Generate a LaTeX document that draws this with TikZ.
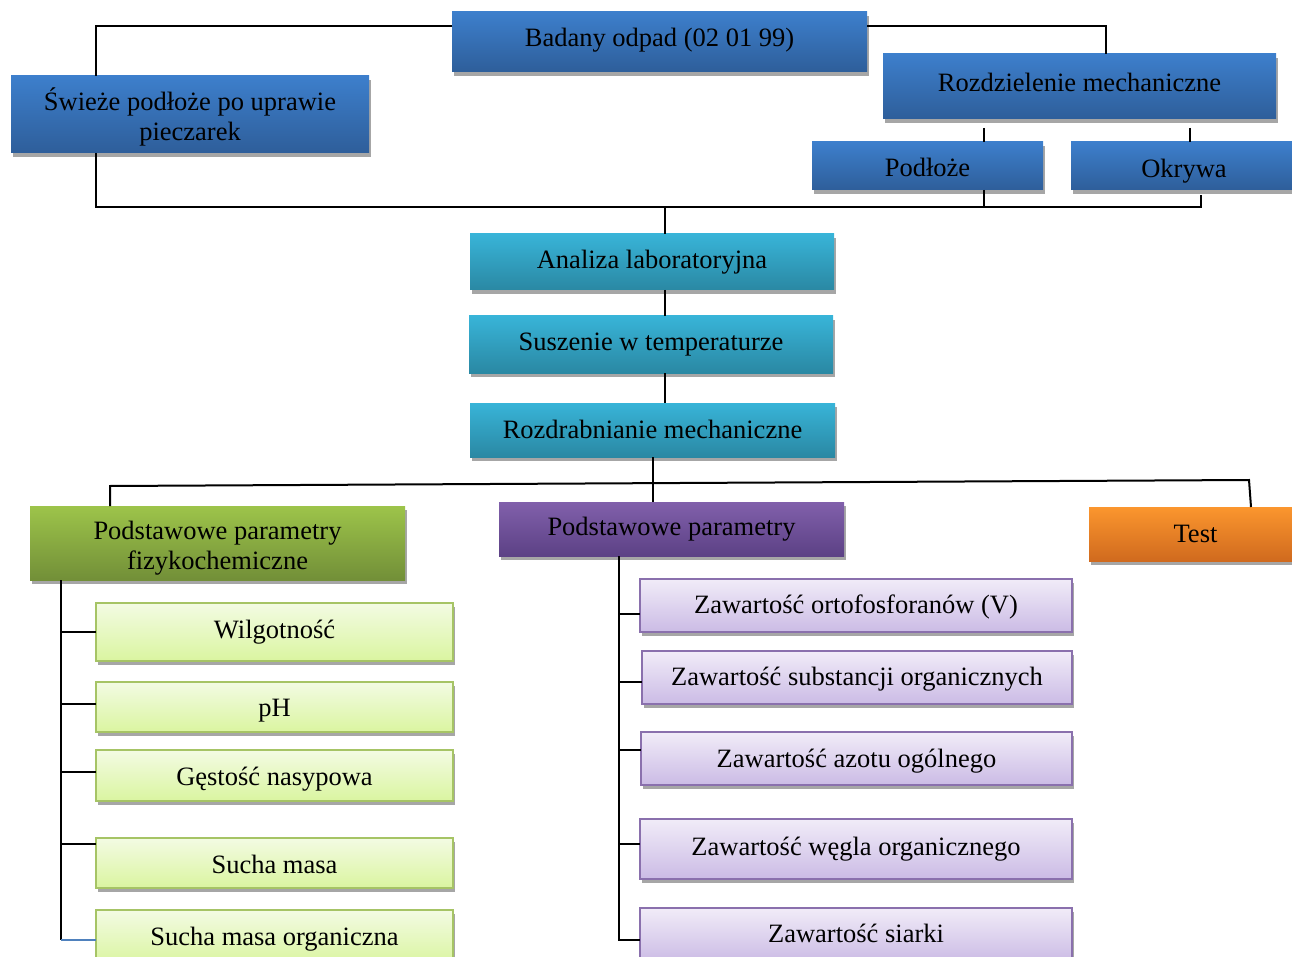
\documentclass[tikz,border=0pt]{standalone}
\usepackage{fontspec}
\setmainfont{Liberation Serif}
\usetikzlibrary{calc,shadows}
\definecolor{blueT}{HTML}{3D7FCC}
\definecolor{blueB}{HTML}{2E5E9A}
\definecolor{tealT}{HTML}{38B4D8}
\definecolor{tealB}{HTML}{2A88A3}
\definecolor{greenT}{HTML}{9DC44A}
\definecolor{greenB}{HTML}{728F38}
\definecolor{purpleT}{HTML}{8160AB}
\definecolor{purpleB}{HTML}{5C4185}
\definecolor{orangeT}{HTML}{FB962E}
\definecolor{orangeB}{HTML}{D06A1E}
\definecolor{lgT}{HTML}{F3FBE3}
\definecolor{lgB}{HTML}{DAF5A0}
\definecolor{lgBorder}{HTML}{A6C465}
\definecolor{lvT}{HTML}{F1ECF8}
\definecolor{lvB}{HTML}{CBBBE5}
\definecolor{lvBorder}{HTML}{8A70AD}
\definecolor{shadowgray}{HTML}{A6A6A6}
\definecolor{stubblue}{HTML}{4F81BD}
\newcommand{\tshift}[2]{\raisebox{#1}{\smash{#2}}\vphantom{#2}}
\tikzset{
  box/.style={rectangle, inner sep=2pt, outer sep=0pt, align=center,
    font=\fontsize{26.5}{30}\selectfont,
    drop shadow={shadow xshift=1.5pt, shadow yshift=-4pt, fill=shadowgray, opacity=1}},
  bluebox/.style={box, top color=blueT, bottom color=blueB},
  tealbox/.style={box, top color=tealT, bottom color=tealB},
  greenbox/.style={box, top color=greenT, bottom color=greenB},
  purplebox/.style={box, top color=purpleT, bottom color=purpleB},
  orangebox/.style={box, top color=orangeT, bottom color=orangeB},
  lgbox/.style={box, top color=lgT, bottom color=lgB, draw=lgBorder, line width=2pt},
  lvbox/.style={box, top color=lvT, bottom color=lvB, draw=lvBorder, line width=2pt},
  conn/.style={draw=black, line width=2pt}
}
\begin{document}
\begin{tikzpicture}[x=1pt,y=-1pt]
\useasboundingbox (0,0) rectangle (1292,957);
\clip (0,0) rectangle (1292,957);

% top level
\node[bluebox, minimum width=415, minimum height=60] (badany) at (659.5,42) {\tshift{2pt}{Badany odpad (02 01 99)}};
\node[bluebox, minimum width=358, minimum height=77] (swieze) at (190,114.5) {\tshift{-2pt}{Świeże podłoże po uprawie}\\\tshift{-2pt}{pieczarek}};
\node[bluebox, minimum width=393, minimum height=65] (rozdz) at (1079.5,86.5) {\tshift{4pt}{Rozdzielenie mechaniczne}};
\node[bluebox, minimum width=231, minimum height=48] (podloze) at (927.5,166) {\tshift{-2pt}{Podłoże}};
\node[bluebox, minimum width=221, minimum height=48] (okrywa) at (1181.5,166) {\hspace*{5pt}\tshift{-5pt}{Okrywa}};

% process chain
\node[tealbox, minimum width=364, minimum height=56] (analiza) at (652,262) {Analiza laboratoryjna};
\node[tealbox, minimum width=364, minimum height=57] (suszenie) at (651,344.5) {Suszenie w temperaturze};
\node[tealbox, minimum width=365, minimum height=54] (rozdrab) at (652.5,430) {\tshift{1pt}{Rozdrabnianie mechaniczne}};

% third level
\node[greenbox, minimum width=375, minimum height=74] (green) at (217.5,543) {\tshift{-5pt}{Podstawowe parametry}\\\tshift{-5pt}{fizykochemiczne}};
\node[purplebox, minimum width=345, minimum height=54] (purple) at (671.5,529) {Podstawowe parametry};
\node[orangebox, minimum width=203, minimum height=54] (test) at (1190.5,534) {\hspace*{10pt}Test};

% green children
\node[lgbox, minimum width=357, minimum height=58] (g1) at (274.5,632) {Wilgotność};
\node[lgbox, minimum width=357, minimum height=50] (g2) at (274.5,707) {\tshift{-4pt}{pH}};
\node[lgbox, minimum width=357, minimum height=51] (g3) at (274.5,775.5) {\tshift{-4pt}{Gęstość nasypowa}};
\node[lgbox, minimum width=357, minimum height=50] (g4) at (274.5,863) {\tshift{-3pt}{Sucha masa}};
\node[lgbox, minimum width=357, minimum height=54] (g5) at (274.5,937) {\tshift{-2pt}{Sucha masa organiczna}};

% purple children
\node[lvbox, minimum width=432, minimum height=53] (p1) at (856,605.5) {\tshift{-1pt}{Zawartość ortofosforanów (V)}};
\node[lvbox, minimum width=430, minimum height=53] (p2) at (857,677.5) {\tshift{-2pt}{Zawartość substancji organicznych}};
\node[lvbox, minimum width=431, minimum height=53] (p3) at (856.5,758.5) {\tshift{-3pt}{Zawartość azotu ogólnego}};
\node[lvbox, minimum width=432, minimum height=60] (p4) at (856,849) {Zawartość węgla organicznego};
\node[lvbox, minimum width=432, minimum height=54] (p5) at (856,935) {\tshift{2pt}{Zawartość siarki}};

% connectors: top
\draw[conn] ($(badany.north west)+(0,14)$) -| ($(swieze.north west)+(85,0)$);
\draw[conn] ($(badany.north east)+(0,14)$) -| ($(rozdz.north)+(26.5,0)$);
\draw[conn] ($(podloze.north)+(56.5,-14)$) -- ($(podloze.north)+(56.5,0)$);
\draw[conn] ($(okrywa.north)+(8.5,-14)$) -- ($(okrywa.north)+(8.5,0)$);
\draw[conn] ($(swieze.south west)+(85,0)$) |- ($(okrywa.south)+(19.5,17)$) -- ($(okrywa.south)+(19.5,5)$);
\draw[conn] ($(podloze.south)+(56.5,0)$) -- ++(0,17);
\draw[conn] ($(analiza.north)+(13,0)$) -- ++(0,-27);

% chain
\draw[conn] ($(analiza.south)+(13,0)$) -- ($(suszenie.north)+(14,0)$);
\draw[conn] ($(suszenie.south)+(14,0)$) -- ($(rozdrab.north)+(12.5,0)$);

% lower bus
\coordinate (busL) at (110,486);
\coordinate (busR) at (1249,480);
\draw[conn] (rozdrab.south) -- ($(purple.north)+(-19,0)$);
\draw[conn] ($(green.north west)+(80,0)$) -- (busL) -- (busR) -- ($(test.north)+(60.5,0)$);

% green trunk
\coordinate (gt) at ($(green.south west)+(31,0)$);
\draw[conn] (gt) -- ($(gt |- g5.west)+(0,3)$);
\draw[conn] (gt |- g1.west) -- (g1.west);
\draw[conn] ($(gt |- g2.west)+(0,-3)$) -- ($(g2.west)+(0,-3)$);
\draw[conn] ($(gt |- g3.west)+(0,-3.5)$) -- ($(g3.west)+(0,-3.5)$);
\draw[conn] ($(gt |- g4.north west)+(0,6)$) -- ($(g4.north west)+(0,6)$);
\draw[line width=2pt, stubblue] ($(gt |- g5.west)+(0,3)$) -- ($(g5.west)+(0,3)$);

% purple trunk
\coordinate (pt) at ($(purple.south west)+(120,0)$);
\draw[conn] (pt) -- ($(pt |- p5.north west)+(0,32)$) -- ($(p5.north west)+(0,32)$);
\draw[conn] ($(pt |- p1.north west)+(0,35)$) -- ($(p1.north west)+(0,35)$);
\draw[conn] ($(pt |- p2.north west)+(0,31)$) -- ($(p2.north west)+(0,31)$);
\draw[conn] ($(pt |- p3.north west)+(0,18)$) -- ($(p3.north west)+(0,18)$);
\draw[conn] ($(pt |- p4.north west)+(0,25)$) -- ($(p4.north west)+(0,25)$);
\end{tikzpicture}
\end{document}
